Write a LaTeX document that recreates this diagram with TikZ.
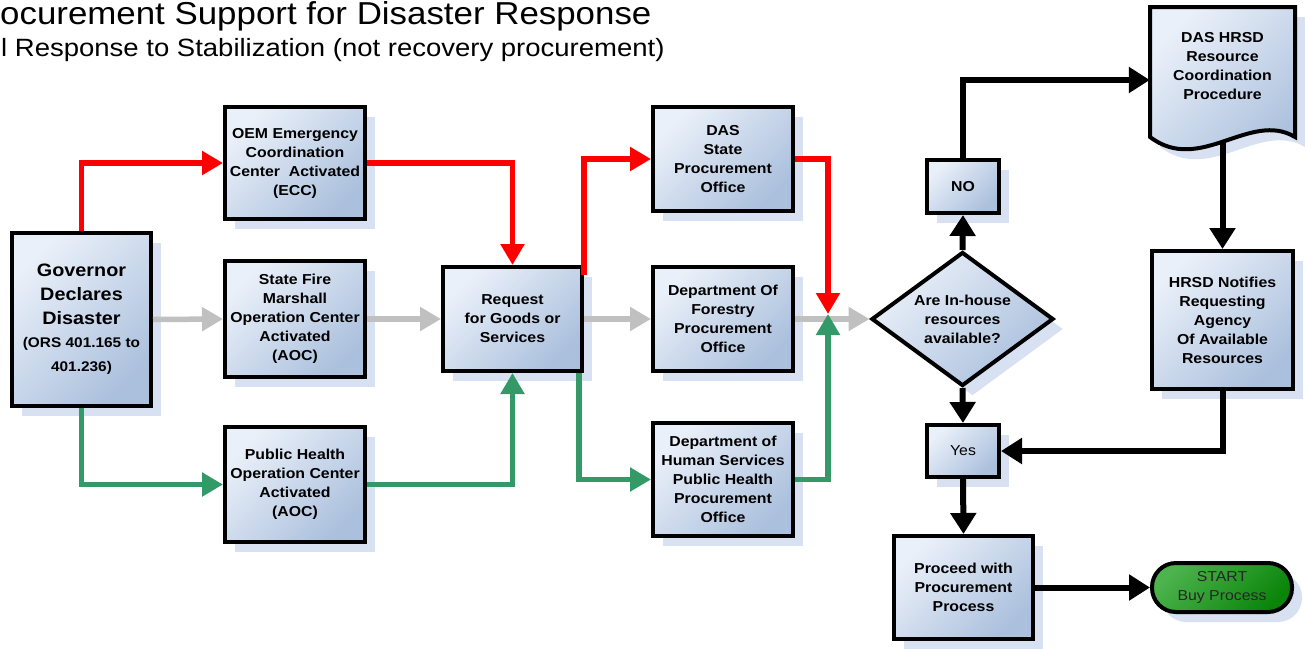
\documentclass[tikz,border=0pt]{standalone}
\usepackage{fontspec}
\setmainfont{Liberation Sans}[FakeStretch=1.1]
\usetikzlibrary{arrows.meta,shapes.geometric,shadows,calc}
\definecolor{boxlight}{HTML}{EAF0F9}
\definecolor{boxdark}{HTML}{ABC0DD}
\definecolor{shadowc}{HTML}{D8E1F1}
\definecolor{redc}{HTML}{FF0000}
\definecolor{grayc}{HTML}{C0C0C0}
\definecolor{greenc}{HTML}{339966}
\definecolor{startlight}{HTML}{4DB34D}
\definecolor{startdark}{HTML}{0A850A}
\begin{document}
\begin{tikzpicture}[x=1pt,y=-1pt,
  shadowed/.style={drop shadow={shadow xshift=10pt,shadow yshift=-10pt,fill=shadowc,opacity=1}},
  box/.style={draw=black,line width=4pt,top color=boxlight,bottom color=boxdark,shading angle=45,
    shadowed,align=center,inner sep=2pt,font=\bfseries\fontsize{14.4}{19}\selectfont},
  plainbox/.style={box,font=\fontsize{14.4}{19}\selectfont},
  conn/.style={line width=5.5pt,-{Triangle[length=21pt,width=23pt]}},
  redarrow/.style={conn,draw=redc},
  grayarrow/.style={conn,draw=grayc},
  greenarrow/.style={conn,draw=greenc},
  blackarrow/.style={conn,line width=6pt,draw=black,-{Triangle[length=21pt,width=25pt]}},
  titletext/.style={anchor=base west,inner sep=0pt}
]
\useasboundingbox (0,0) rectangle (1305,648);

% titles
\node[titletext,font=\fontsize{31.7}{36}\selectfont] (title) at (0,24) {ocurement Support for Disaster Response};
\node[titletext,font=\fontsize{25}{30}\selectfont] (subtitle) at (1,56) {l Response to Stabilization (not recovery procurement)};

% boxes
\node[box,minimum width=139pt,minimum height=173pt,font=\bfseries\fontsize{18}{24}\selectfont] (gov) at (81.5,319.5)
  {Governor\\Declares\\Disaster\\[-1pt]{\fontsize{14}{22}\selectfont (ORS 401.165 to}\\{\fontsize{14}{22}\selectfont 401.236)}};
\node[box,minimum width=140pt,minimum height=112pt] (oem) at (295,163) {OEM Emergency\\Coordination\\Center\ \ Activated\\(ECC)};
\node[box,minimum width=140pt,minimum height=116pt] (sf) at (295,319) {State Fire\\Marshall\\Operation Center\\Activated\\(AOC)};
\node[box,minimum width=140pt,minimum height=115pt] (ph) at (295,484.5) {Public Health\\Operation Center\\Activated\\(AOC)};
\node[box,minimum width=139pt,minimum height=104pt] (req) at (512.5,319) {Request\\for Goods or\\Services};
\node[box,minimum width=140pt,minimum height=104pt] (das) at (723,159) {DAS\\State\\Procurement\\Office};
\node[box,minimum width=140pt,minimum height=104pt] (forestry) at (723,319) {Department Of\\Forestry\\Procurement\\Office};
\node[box,minimum width=140pt,minimum height=113pt] (dhs) at (723,479.5) {Department of\\Human Services\\Public Health\\Procurement\\Office};
\node[box,diamond,aspect=1.37,inner sep=0pt,minimum width=182pt,minimum height=134pt] (dia) at (962.5,319) {Are In-house\\resources\\available?};
\node[box,minimum width=72pt,minimum height=53pt] (no) at (963,186.5) {NO};
\node[plainbox,minimum width=72pt,minimum height=52pt] (yes) at (963,451) {Yes};
\node[box,minimum width=139pt,minimum height=103pt] (proceed) at (963.5,587.5) {Proceed with\\Procurement\\Process};
\node[box,minimum width=141pt,minimum height=138pt] (hrsd) at (1222.5,320) {HRSD Notifies\\Requesting\\Agency\\Of Available\\Resources};
\node[box,rounded corners=24pt,minimum width=140pt,minimum height=49pt,
  top color=startlight,bottom color=startdark,shading angle=45,
  font=\fontsize{14.4}{19}\selectfont\color{black!85}] (start) at (1222,587.5) {START\\Buy Process};

% document shape (DAS HRSD)
\fill[shadowc] (1160,17) -- (1305,17) -- (1305,147) .. controls (1260,120) and (1210,185) .. (1160,147) -- cycle;
\path[draw=black,line width=4pt,top color=boxlight,bottom color=boxdark,shading angle=45]
  (1150,7) -- (1295,7) -- (1295,137) .. controls (1250,110) and (1200,175) .. (1150,137) -- cycle;
\node[align=center,inner sep=0pt,minimum width=145pt,minimum height=118pt,
  font=\bfseries\fontsize{14.4}{19}\selectfont] (doc) at (1222.5,66) {DAS HRSD\\Resource\\Coordination\\Procedure};

% merge point
\coordinate (merge) at (828,314);

% red connectors
\draw[redarrow] (gov.north) |- (oem.west);
\draw[redarrow] (oem.east) -| (req.north);
\draw[redarrow] ($(req.north east)+(0,10)$) |- (das.west);
\draw[redarrow] (das.east) -| (merge);

% gray connectors
\draw[grayarrow] (gov.east) -- (sf.west);
\draw[grayarrow] (sf.east) -- (req.west);
\draw[grayarrow] (req.east) -- (forestry.west);
\draw[grayarrow] (forestry.east) -- (dia.west);

% green connectors
\draw[greenarrow] (gov.south) |- (ph.west);
\draw[greenarrow] (ph.east) -| (req.south);
\draw[greenarrow] ($(req.south east)+(-5,0)$) |- (dhs.west);
\draw[greenarrow] (dhs.east) -| (merge);

% black connectors
\draw[blackarrow] (dia.north) -- (no.south);
\draw[blackarrow] (no.north) |- ($(doc.west)+(0,14)$);
\draw[blackarrow] ($(doc.south)+(0,16)$) -- (hrsd.north);
\draw[blackarrow] (hrsd.south) |- (yes.east);
\draw[blackarrow] (dia.south) -- (yes.north);
\draw[blackarrow] (yes.south) -- (proceed.north);
\draw[blackarrow] (proceed.east) -- (start.west);
\end{tikzpicture}
\end{document}
